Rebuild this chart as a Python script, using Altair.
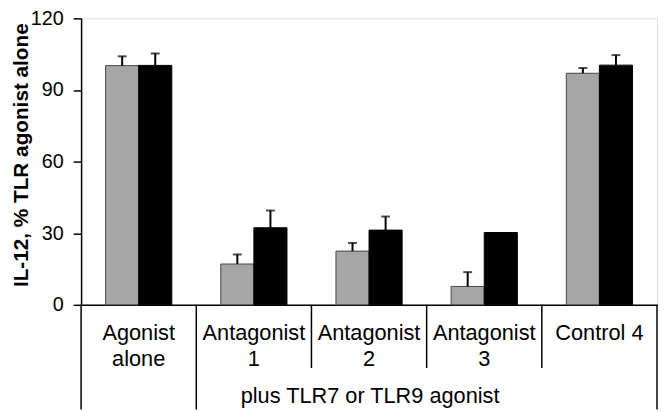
import altair as alt
import pandas as pd

categories = ["Agonist alone", "Antagonist 1", "Antagonist 2", "Antagonist 3", "Control 4"]
cat_labels = ["Agonist\nalone", "Antagonist\n1", "Antagonist\n2", "Antagonist\n3", "Control 4"]
series = ["TLR7", "TLR9"]
gray_vals = [100.2, 17.1, 22.5, 7.7, 97.0]
gray_err = [3.9, 4.0, 3.4, 6.0, 2.2]
black_vals = [100.3, 32.3, 31.3, 30.3, 100.4]
black_err = [5.0, 7.2, 5.7, 0.0, 4.2]
colors = ["#a6a6a6", "#000000"]
group_label = "plus TLR7 or TLR9 agonist"
y_ticks = [0, 15, 30, 45, 60, 75, 90, 105, 120]
divider_long = [True, True, False, False, False]

W, H = 583, 290
FONT = "Liberation Sans"

rows = []
for i, c in enumerate(categories):
    rows.append({"cat": c, "series": series[0], "value": gray_vals[i], "top": gray_vals[i] + gray_err[i], "err": gray_err[i]})
    rows.append({"cat": c, "series": series[1], "value": black_vals[i], "top": black_vals[i] + black_err[i], "err": black_err[i]})
df = pd.DataFrame(rows)

lab_df = pd.DataFrame({"cat": categories, "label": cat_labels})
div_df = pd.DataFrame({"cat": categories, "long": divider_long})

xs = alt.Scale(domain=categories, paddingInner=0, paddingOuter=0)
xo = alt.XOffset("series:N", scale=alt.Scale(domain=series, paddingOuter=0.74, paddingInner=0))
ys = alt.Scale(domain=[0, 120], nice=False)

x_enc = alt.X("cat:N", scale=xs, sort=categories,
              axis=alt.Axis(labels=False, ticks=False, title=None, domain=True,
                            domainColor="black", domainWidth=1.5))

bars = alt.Chart(df).mark_bar(strokeWidth=1).encode(
    x=x_enc,
    xOffset=xo,
    y=alt.Y("value:Q", scale=ys,
            axis=alt.Axis(values=y_ticks,
                          labelExpr="datum.value % 30 == 0 ? datum.label : ''",
                          grid=False, tickSize=8, tickWidth=1.5, tickColor="black",
                          domainColor="black", domainWidth=1.5,
                          labelFontSize=20, labelFont=FONT, labelColor="black", labelPadding=10,
                          title="IL-12, % TLR agonist alone", titleFont=FONT, titleFontSize=21,
                          titleFontWeight="bold", titleColor="black",
                          titleX=-54, titleY=H / 2 - 7, titleAngle=-90, titleAlign="center",
                          titleBaseline="alphabetic")),
    fill=alt.Fill("series:N", scale=alt.Scale(domain=series, range=colors), legend=None),
    stroke=alt.Stroke("series:N", scale=alt.Scale(domain=series, range=["#444444", "#000000"]), legend=None),
)

err_df = alt.Chart(df).transform_filter("datum.err > 0")
err_rule = err_df.mark_rule(color="black", strokeWidth=2).encode(
    x=alt.X("cat:N", scale=xs, sort=categories), xOffset=xo,
    y=alt.Y("value:Q", scale=ys), y2="top:Q")
err_cap = err_df.mark_tick(color="black", orient="horizontal", size=9, thickness=2).encode(
    x=alt.X("cat:N", scale=xs, sort=categories), xOffset=xo,
    y=alt.Y("top:Q", scale=ys))

labels = alt.Chart(lab_df).mark_text(font=FONT, fontSize=22, lineBreak="\n", lineHeight=26,
                                     baseline="alphabetic", align="center", color="black").encode(
    x=alt.X("cat:N", scale=xs, sort=categories),
    y=alt.value(326),
    text="label:N")

div_long = alt.Chart(div_df).transform_filter("datum.long").mark_rule(color="black", strokeWidth=1.5).encode(
    x=alt.X("cat:N", scale=xs, sort=categories, bandPosition=0),
    y=alt.value(H), y2=alt.value(396))
div_short = alt.Chart(div_df).transform_filter("!datum.long").mark_rule(color="black", strokeWidth=1.5).encode(
    x=alt.X("cat:N", scale=xs, sort=categories, bandPosition=0),
    y=alt.value(H), y2=alt.value(354))
right_edge = alt.Chart(div_df).transform_filter("datum.cat == 'Control 4'").mark_rule(color="black", strokeWidth=1.5).encode(
    x=alt.value(W), y=alt.value(H), y2=alt.value(396))

group_txt = alt.Chart(pd.DataFrame({"t": [group_label]})).mark_text(
    font=FONT, fontSize=22, baseline="alphabetic", align="center", color="black").encode(
    x=alt.value(292.5), y=alt.value(389), text="t:N")

chart = alt.layer(bars, err_rule, err_cap, div_long, div_short, right_edge, labels, group_txt).properties(
    width=W, height=H,
    autosize=alt.AutoSizeParams(type="none"),
    padding={"left": 74, "top": 8, "right": 1, "bottom": 106},
).configure_view(stroke=None).configure(background="white")

chart.save("out.html", embed_options={"renderer": "svg", "actions": False})
